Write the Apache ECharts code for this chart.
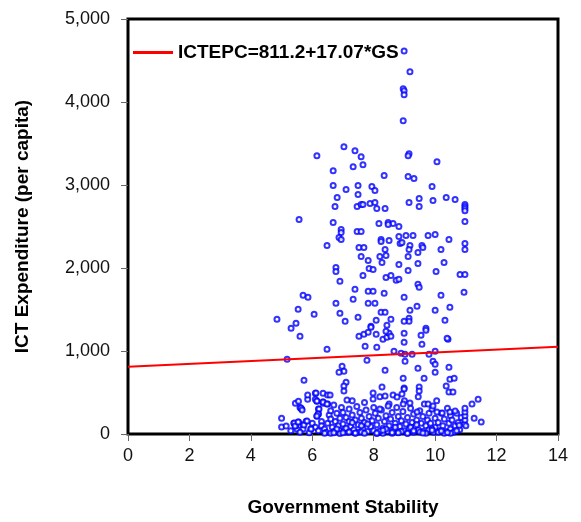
<!DOCTYPE html>
<html>
<head>
<meta charset="utf-8">
<script src="https://cdn.jsdelivr.net/npm/echarts@6/dist/echarts.min.js"></script>
<style>html,body{margin:0;padding:0;background:#fff}#c{width:581px;height:522px}</style>
</head>
<body>
<div id="c"></div>
<script>
// Axis ticks
const xTicks = [0, 2, 4, 6, 8, 10, 12, 14];
const yTicks = [0, 1000, 2000, 3000, 4000, 5000];
// Regression: ICTEPC = 811.2 + 17.07*GS
const intercept = 811.2;
const slope = 17.07;
const legendLabel = 'ICTEPC=811.2+17.07*GS';

// Observations (Government Stability, ICT Expenditure per capita), high values
const gsHigh = [8.99,9.18,8.96,8.99,8.99,8.96,6.15,7.03,7.39,7.59,9.15,9.12,10.06,6.68,7.33,7.65,8.34,9.12,9.31,6.68,7.1,7.49,7.94,8.04,7.49,6.81,9.9,9.48,9.93,10.36,10.65,10.97,10.97,10.97,10.97,6.74,7.46,7.59,7.65,7.88,8.04,8.1,8.37,9.15,9.48,10.97,5.57,6.68,6.94,6.94,6.87,6.94,7.46,7.59,6.48,7.52,7.68,7.59,7.82,7.85,7.98,6.77,6.77,6.9,7.65,7.39,7.82,7.98,7.33,8.34,6.77,7.82,8.04];
const ictHigh = [4615,4363,4159,4135,4087,3774,3353,3462,3413,3341,3377,3353,3281,3173,3221,3245,3113,3101,3077,2993,2945,2993,2981,2933,2885,2849,2981,2837,2813,2849,2825,2765,2740,2716,2690,2740,2740,2765,2765,2776,2788,2716,2716,2788,2740,2560,2584,2548,2464,2428,2368,2344,2440,2440,2272,2248,2248,2139,2091,1995,1983,2007,1959,1839,1911,1743,1719,1719,1623,1695,1575,1575,1575];

// Observations, middle values
const gsMid = [5.7,5.86,5.54,6.06,4.85,5.47,5.31,6.9,7.07,7.49,8.24,8.37,8.08,8.56,8.43,7.91,8.17,8.47,8.63,8.47,8.82,8.24,8.24,8.5,8.86,8.92,8.82,9.05,9.28,9.77,10.0,10.45,10.97,10.97,8.37,8.4,8.2,8.27,8.82,9.18,9.15,9.57,9.6,9.44,10.19,9.12,9.44,10.29,9.12,10.03,10.81,10.97,8.4,8.56,8.73,8.82,9.44,9.48,10.94,8.99,10.19,9.41,9.18,10.0,10.48,9.15,9.15,8.99,10.32,9.7];
const ictMid = [1671,1647,1502,1442,1382,1334,1274,1454,1358,1406,1466,1466,1370,1382,1310,1298,2536,2548,2536,2524,2500,2344,2320,2332,2296,2308,2380,2392,2392,2392,2404,2344,2296,2224,2224,2151,2139,2067,2043,2272,2224,2272,2248,2188,2224,2139,2055,2067,1971,1959,1923,1923,1887,1911,1851,1863,1803,1767,1707,1647,1671,1538,1490,1490,1526,1394,1358,1358,1370,1274];

// Observations, around the fitted line
const gsLine = [10.42,10.0,9.93,10.0,10.0,10.45,10.48,10.62,10.36,10.45,10.58,5.6,6.48,5.18,7.52,7.68,7.82,7.91,8.08,8.1,7.72,8.3,8.43,8.5,8.56,8.4,8.99,8.99,9.54,9.7,9.57,10.39,8.66,8.89,9.02,9.25,9.8,7.78,9.02,6.97,7.03,6.87,8.37,9.44,5.73,7.1,7.03,7.03,8.96,9.64,8.27,8.99,9.48,9.48,8.99];
const ictLine = [1142,998,877,841,745,805,661,673,577,505,505,1178,1022,901,1178,1202,1226,1286,1202,1046,1058,1142,1166,1214,1178,1238,1214,1106,1190,1250,1082,1154,998,974,962,962,962,889,877,817,757,745,769,793,649,625,577,517,673,673,565,553,565,517,541];

// Observations, low values
const gsLow = [5.0,5.0,5.15,5.3,5.4,5.45,5.5,5.55,5.6,5.65,5.45,5.55,5.7,5.7,5.8,5.85,5.85,5.95,5.6,5.9,6.1,6.1,6.15,6.2,6.2,6.15,6.35,6.35,6.35,6.5,6.5,6.0,6.1,6.2,6.3,6.3,6.4,6.45,6.5,6.55,6.6,6.6,6.65,6.7,6.7,6.75,6.8,6.85,6.9,6.9,6.95,7.0,7.0,7.05,7.1,7.15,7.2,7.2,7.25,7.3,7.3,7.35,7.4,7.45,7.5,7.5,7.55,7.6,7.65,7.7,7.7,7.75,7.8,7.85,7.9,7.95,8.0,8.0,8.05,8.1,8.15,8.2,8.2,8.25,8.3,8.35,8.4,8.45,8.5,8.5,8.55,8.6,8.65,8.7,8.75,8.8,8.8,8.85,8.9,8.95,9.0,9.0,9.05,9.1,9.15,9.2,9.25,9.3,9.3,9.35,9.4,9.45,9.45,9.5,9.55,9.6,9.6,9.65,9.7,9.75,9.8,9.8,9.85,9.9,9.95,10.0,10.0,10.05,10.1,10.15,10.2,10.25,10.3,10.35,10.4,10.45,10.5,10.5,10.55,10.6,10.65,10.7,10.75,10.8,10.85,10.95,10.97,10.97,10.97,10.97,11.0,11.2,11.27,11.4,11.5,10.78,6.6,6.9,7.1,7.4,7.6,7.8,8.1,8.3,8.6,8.7,8.9,9.1,9.4,9.7,9.9,10.3,10.5,6.8,7.3,8.4,9.2,10.1,7.98,7.98,8.37,8.63,8.76,8.92,8.2,8.47,8.96,9.18,9.41,9.77,9.93,10.06,10.23,10.48,10.65,7.13,6.15,6.35,6.48,6.22,6.19,6.15,5.63,5.67,5.41,5.44,5.54,5.73,5.83,5.96,6.58,6.12,7.0,7.6,8.2,8.8,9.5,10.2,6.7,7.2,7.7,8.1,8.6,9.1,9.6,10.4,6.4,7.4,8.3,9.3,9.9,10.7];
const ictLow = [190,85,95,40,130,370,60,145,320,300,95,395,110,60,155,420,470,60,20,15,490,420,395,300,240,215,490,385,370,360,470,130,80,40,150,100,60,20,130,230,280,180,80,30,350,150,250,100,40,190,320,120,260,50,200,20,150,300,90,400,230,50,170,330,110,20,260,190,60,380,140,290,30,210,90,160,320,40,250,110,190,20,450,290,70,150,220,30,360,100,180,260,50,130,320,20,210,90,160,270,40,400,120,200,60,310,140,20,240,90,170,450,50,280,130,210,30,360,100,170,250,50,130,300,20,190,80,400,140,40,250,100,180,30,310,130,60,220,170,20,100,250,140,50,200,120,170,220,265,310,100,360,190,420,145,105,10,5,70,10,100,120,5,10,10,80,30,10,110,10,60,10,10,60,140,60,80,20,493,421,457,469,445,481,300,337,361,373,264,361,337,264,252,264,276,409,397,385,361,300,240,216,312,288,132,96,144,108,156,60,469,493,15,25,35,15,25,35,15,25,8,12,18,8,12,18,8,12,45,40,45,40,45,40];

const points = [];
[[gsHigh, ictHigh], [gsMid, ictMid], [gsLine, ictLine], [gsLow, ictLow]].forEach(([xs, ys]) => {
  const n = Math.min(xs.length, ys.length);
  for (let i = 0; i < n; i++) points.push([xs[i], ys[i]]);
});
const fitLine = [[xTicks[0], intercept + slope * xTicks[0]], [xTicks[xTicks.length - 1], intercept + slope * xTicks[xTicks.length - 1]]];

const font = 'Liberation Sans, Arial, sans-serif';
const chart = echarts.init(document.getElementById('c'), null, { renderer: 'canvas' });
chart.setOption({
  animation: false,
  backgroundColor: '#fff',
  grid: { left: 128, right: 23, top: 19, bottom: 87, show: true, borderColor: '#000', borderWidth: 3, backgroundColor: 'transparent' },
  legend: {
    data: [legendLabel],
    left: 128, top: 38,
    icon: 'rect', itemWidth: 40, itemHeight: 3, itemGap: 5,
    textStyle: { fontFamily: font, fontSize: 19, fontWeight: 'bold', color: '#000' }
  },
  xAxis: {
    type: 'value', min: xTicks[0], max: xTicks[xTicks.length - 1], interval: 2,
    name: 'Government Stability', nameLocation: 'middle', nameGap: 64,
    nameTextStyle: { fontFamily: font, fontSize: 19, fontWeight: 'bold', color: '#000' },
    axisLine: { show: false },
    axisTick: { show: true, length: 7, lineStyle: { color: '#666' } },
    axisLabel: { fontFamily: font, fontSize: 18, color: '#111', margin: 13 },
    splitLine: { show: false }
  },
  yAxis: {
    type: 'value', min: yTicks[0], max: yTicks[yTicks.length - 1], interval: 1000,
    name: 'ICT Expenditure (per capita)', nameLocation: 'middle', nameGap: 96, nameRotate: 90,
    nameTextStyle: { fontFamily: font, fontSize: 19, fontWeight: 'bold', color: '#000' },
    axisLine: { show: false },
    axisTick: { show: true, length: 7, lineStyle: { color: '#666' } },
    axisLabel: { fontFamily: font, fontSize: 18, color: '#111', margin: 18, formatter: v => v.toLocaleString('en-US') },
    splitLine: { show: false }
  },
  series: [
    {
      type: 'scatter', name: 'obs', data: points, symbol: 'emptyCircle', symbolSize: 5,
      itemStyle: { color: '#0000ff', borderColor: '#0000ff', borderWidth: 1.2 },
      clip: true, z: 2
    },
    {
      type: 'line', name: legendLabel, data: fitLine, symbol: 'none',
      lineStyle: { color: '#ff0000', width: 2 }, itemStyle: { color: '#ff0000' }, z: 3
    }
  ]
});
</script>
</body>
</html>
